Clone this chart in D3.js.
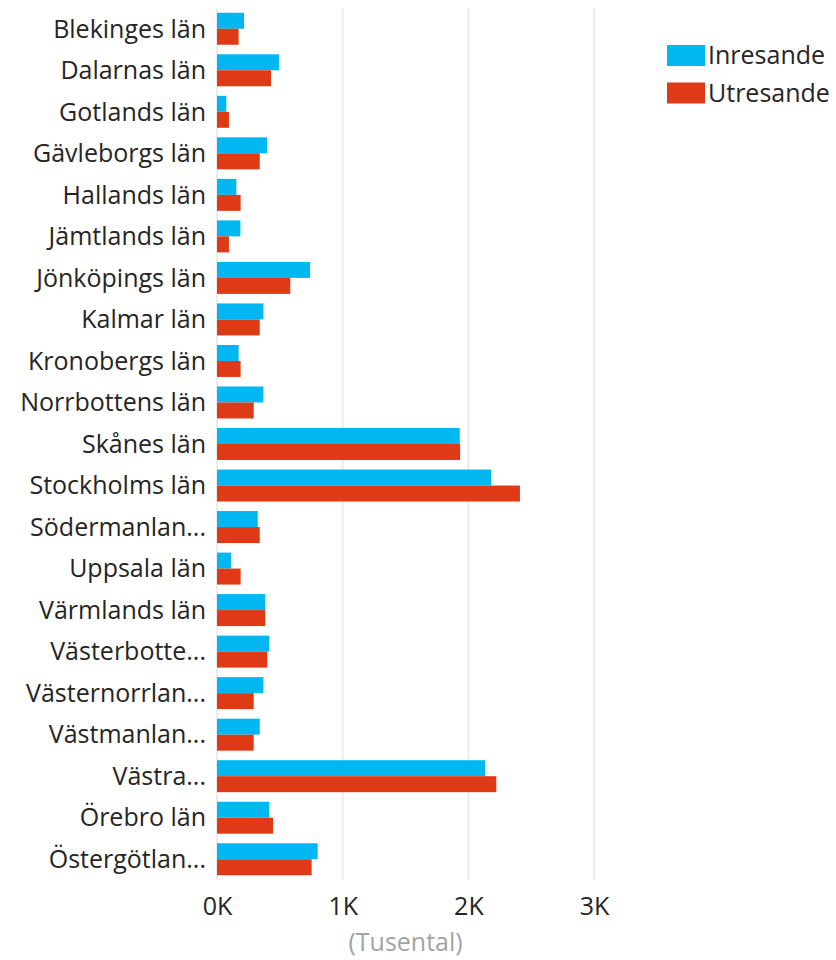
<!DOCTYPE html>
<html>
<head>
<meta charset="utf-8">
<script src="https://cdn.jsdelivr.net/npm/d3@7"></script>
<style>
  body { margin: 0; background: #fff; }
  text { font-family: "Open Sans", "Noto Sans", sans-serif; }
</style>
</head>
<body>
<div id="chart"></div>
<script>
const categories = [
    "Blekinges län", "Dalarnas län", "Gotlands län", "Gävleborgs län",
    "Hallands län", "Jämtlands län", "Jönköpings län", "Kalmar län",
    "Kronobergs län", "Norrbottens län", "Skånes län", "Stockholms län",
    "Södermanlan...", "Uppsala län", "Värmlands län", "Västerbotte...",
    "Västernorrlan...", "Västmanlan...", "Västra...", "Örebro län",
    "Östergötlan..."
];
// thousands
const inresande = [215, 493, 74, 400, 154, 186, 740, 369, 172, 369, 1931, 2180, 324, 111, 384, 416, 369, 340, 2132, 416, 801];
const utresande = [172, 430, 95, 340, 188, 95, 583, 340, 188, 292, 1934, 2410, 340, 188, 384, 400, 292, 292, 2222, 446, 753];
const seriesNames = ["Inresande", "Utresande"];
const colors = ["#00b7f1", "#df3a16"];
const xTicks = [0, 1000, 2000, 3000];

const width = 836, height = 960;
const margin = { left: 217, top: 8, bottom: 80 };
const plotRight = 217 + 125.7 * 3;
const fontSize = 25;
const textColor = "#252525";

const svg = d3.select("#chart").append("svg")
    .attr("width", width)
    .attr("height", height);

const x = d3.scaleLinear()
    .domain([0, 3000])
    .range([margin.left, plotRight]);

const y = d3.scaleBand()
    .domain(categories)
    .range([margin.top, height - margin.bottom])
    .paddingInner(0.23)
    .paddingOuter(0.115);

const ySub = d3.scaleBand()
    .domain(seriesNames)
    .range([0, y.bandwidth()]);

// gridlines
svg.append("g")
    .selectAll("line")
    .data(xTicks)
    .join("line")
    .attr("x1", d => x(d))
    .attr("x2", d => x(d))
    .attr("y1", margin.top)
    .attr("y2", height - margin.bottom)
    .attr("stroke", "#ececec")
    .attr("stroke-width", 2);

// bars
const rows = categories.map((c, i) => ({ c, vals: [inresande[i], utresande[i]] }));
const groups = svg.append("g")
    .selectAll("g")
    .data(rows)
    .join("g")
    .attr("transform", d => `translate(0,${y(d.c)})`);

groups.selectAll("rect")
    .data(d => d.vals.map((v, k) => ({ v, k })))
    .join("rect")
    .attr("x", x(0))
    .attr("y", d => ySub(seriesNames[d.k]))
    .attr("width", d => x(d.v) - x(0))
    .attr("height", ySub.bandwidth())
    .attr("fill", d => colors[d.k]);

// category labels
svg.append("g")
    .selectAll("text")
    .data(categories)
    .join("text")
    .attr("x", 206)
    .attr("y", d => y(d) + y.bandwidth() / 2)
    .attr("dy", "0.35em")
    .attr("text-anchor", "end")
    .attr("font-size", fontSize)
    .attr("fill", textColor)
    .text(d => d);

// x axis
const xAxis = d3.axisBottom(x)
    .tickValues(xTicks)
    .tickFormat(d => (d / 1000) + "K")
    .tickSize(0)
    .tickPadding(17);

const ax = svg.append("g")
    .attr("transform", `translate(0,${height - margin.bottom})`)
    .call(xAxis);
ax.select(".domain").remove();
ax.selectAll("text")
    .attr("font-size", fontSize)
    .attr("fill", textColor)
    .style("font-family", "'Open Sans', 'Noto Sans', sans-serif");

svg.append("text")
    .attr("x", (x(0) + x(3000)) / 2)
    .attr("y", 951)
    .attr("text-anchor", "middle")
    .attr("font-size", fontSize)
    .attr("fill", "#a3a3a3")
    .text("(Tusental)");

// legend
const legend = svg.append("g")
    .selectAll("g")
    .data(seriesNames)
    .join("g")
    .attr("transform", (d, i) => `translate(667,${45 + i * 37.5})`);

legend.append("rect")
    .attr("width", 38)
    .attr("height", 21)
    .attr("fill", (d, i) => colors[i]);

legend.append("text")
    .attr("x", 41)
    .attr("y", 10.5)
    .attr("dy", "0.35em")
    .attr("font-size", fontSize)
    .attr("fill", textColor)
    .text(d => d);
</script>
</body>
</html>
